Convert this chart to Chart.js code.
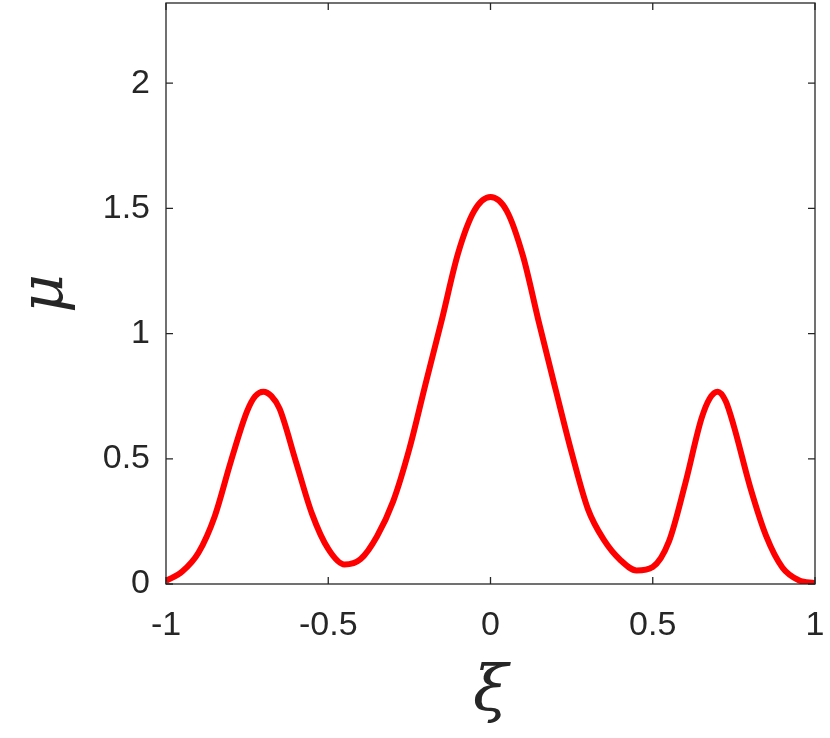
<!DOCTYPE html>
<html>
<head>
<meta charset="utf-8">
<script src="https://cdn.jsdelivr.net/npm/chart.js"></script>
<style>
  html, body { margin: 0; padding: 0; background: #fff; }
  #wrap { width: 830px; height: 738px; }
</style>
</head>
<body>
<div id="wrap"><canvas id="myChart" width="830" height="738"></canvas></div>
<script>
// values
const xi = [-1, -0.95, -0.9, -0.85, -0.8, -0.75, -0.725, -0.7, -0.675, -0.65, -0.6, -0.55, -0.5, -0.45, -0.4, -0.35, -0.3, -0.25, -0.2, -0.15, -0.1, -0.05,
            0, 0.05, 0.1, 0.15, 0.2, 0.25, 0.3, 0.35, 0.4, 0.45, 0.5, 0.55, 0.6, 0.65, 0.675, 0.7, 0.725, 0.75, 0.8, 0.85, 0.9, 0.95, 1];
const mu = [0.012, 0.05, 0.125, 0.27, 0.49, 0.69, 0.75, 0.768, 0.75, 0.70, 0.49, 0.28, 0.14, 0.078, 0.10, 0.19, 0.33, 0.54, 0.80, 1.055, 1.32, 1.49,
            1.545, 1.49, 1.31, 1.04, 0.78, 0.525, 0.30, 0.175, 0.096, 0.054, 0.068, 0.17, 0.40, 0.66, 0.74, 0.768, 0.73, 0.63, 0.388, 0.19, 0.065, 0.015, 0.003];
const xTicks = [-1, -0.5, 0, 0.5, 1];
const yTicks = [0, 0.5, 1, 1.5, 2];

const axisColor = '#262626';

// box around the plot with inward ticks on all four sides
const boxPlugin = {
  id: 'box',
  afterDraw(chart) {
    const { ctx, chartArea: a, scales } = chart;
    ctx.save();
    ctx.strokeStyle = axisColor;
    ctx.lineWidth = 1.3;
    ctx.strokeRect(a.left, a.top, a.right - a.left, a.bottom - a.top);
    ctx.beginPath();
    const len = 7;
    xTicks.forEach(v => {
      const px = scales.x.getPixelForValue(v);
      ctx.moveTo(px, a.bottom); ctx.lineTo(px, a.bottom - len);
      ctx.moveTo(px, a.top); ctx.lineTo(px, a.top + len);
    });
    yTicks.forEach(v => {
      const py = scales.y.getPixelForValue(v);
      ctx.moveTo(a.left, py); ctx.lineTo(a.left + len, py);
      ctx.moveTo(a.right, py); ctx.lineTo(a.right - len, py);
    });
    ctx.stroke();
    ctx.restore();
  }
};

const noPad = s => { s.paddingLeft = 0; s.paddingRight = 0; s.paddingTop = 0; s.paddingBottom = 0; };

const ctx = document.getElementById('myChart').getContext('2d');
new Chart(ctx, {
  type: 'line',
  data: {
    datasets: [{
      data: xi.map((x, i) => ({ x: x, y: mu[i] })),
      borderColor: '#ff0000',
      borderWidth: 6,
      pointRadius: 0,
      cubicInterpolationMode: 'monotone',
      fill: false
    }]
  },
  options: {
    responsive: false,
    animation: false,
    layout: { padding: { left: 0, right: 15, top: 3, bottom: 0 } },
    plugins: { legend: { display: false }, tooltip: { enabled: false } },
    scales: {
      x: {
        type: 'linear',
        min: -1, max: 1,
        afterBuildTicks: s => { s.ticks = xTicks.map(v => ({ value: v })); },
        afterFit: s => { s.height = 154; noPad(s); },
        grid: { display: false, drawTicks: false },
        border: { display: false },
        ticks: { padding: 21, color: axisColor, font: { family: 'Liberation Sans', size: 34 }, callback: v => String(v) },
        title: {
          display: true, text: 'ξ', color: axisColor,
          padding: { top: 0, bottom: 6 },
          font: { family: 'DejaVu Serif', style: 'italic', size: 64 }
        }
      },
      y: {
        min: 0, max: 2.32,
        afterBuildTicks: s => { s.ticks = yTicks.map(v => ({ value: v })); },
        afterFit: s => { s.width = 166; noPad(s); },
        grid: { display: false, drawTicks: false },
        border: { display: false },
        ticks: { padding: 16, color: axisColor, font: { family: 'Liberation Sans', size: 34 }, callback: v => String(v) },
        title: {
          display: true, text: 'μ', color: axisColor,
          padding: { top: 11, bottom: 0 },
          font: { family: 'DejaVu Serif', style: 'italic', size: 60 }
        }
      }
    }
  },
  plugins: [boxPlugin]
});
</script>
</body>
</html>
